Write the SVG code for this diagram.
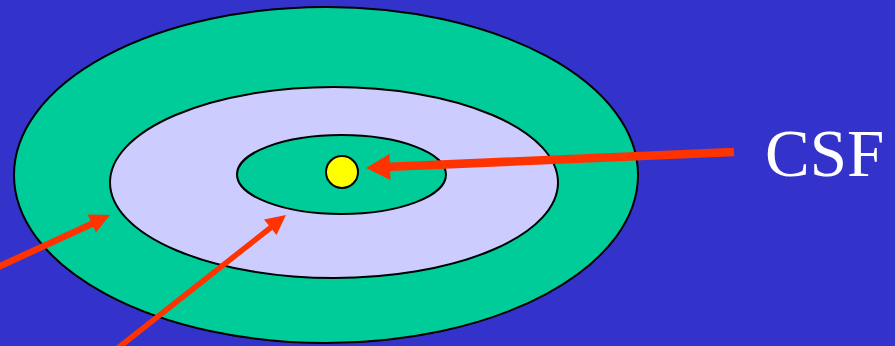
<svg xmlns="http://www.w3.org/2000/svg" width="895" height="346" viewBox="0 0 895 346">
<style>
.ring{stroke:#000;stroke-width:2}
.g{fill:#00cc99}
.l{fill:#ccccff}
.arrow{stroke:#ff3300;fill:none}
.head{fill:#ff3300}
.lbl{font-family:"Liberation Serif","Times New Roman",serif;fill:#fff}
</style>
<rect width="895" height="346" fill="#3333cc"/>
<g id="outer"><ellipse class="ring g" cx="326" cy="175" rx="312" ry="168"/></g>
<g id="middle"><ellipse class="ring l" cx="334" cy="182.5" rx="224" ry="95.5"/></g>
<g id="inner"><ellipse class="ring g" cx="341.5" cy="174.5" rx="104.5" ry="39.5"/></g>
<g id="core"><circle class="ring" cx="342" cy="172" r="16" fill="#ffff00"/></g>
<g id="connectors">
<line class="arrow" x1="734" y1="152" x2="385" y2="167" stroke-width="8.5"/>
<polygon class="head" points="366,168 390.5,180 389.5,154"/>
<line class="arrow" x1="-4" y1="268" x2="96" y2="222" stroke-width="6.5"/>
<polygon class="head" points="110,215 96,232.5 87.5,214.5"/>
<line class="arrow" x1="118" y1="348" x2="274" y2="225" stroke-width="5.5"/>
<polygon class="head" points="286,215 276.5,235 264,219.5"/>
</g>
<g id="label"><text class="lbl" x="765" y="176" font-size="67">CSF</text></g>
</svg>
